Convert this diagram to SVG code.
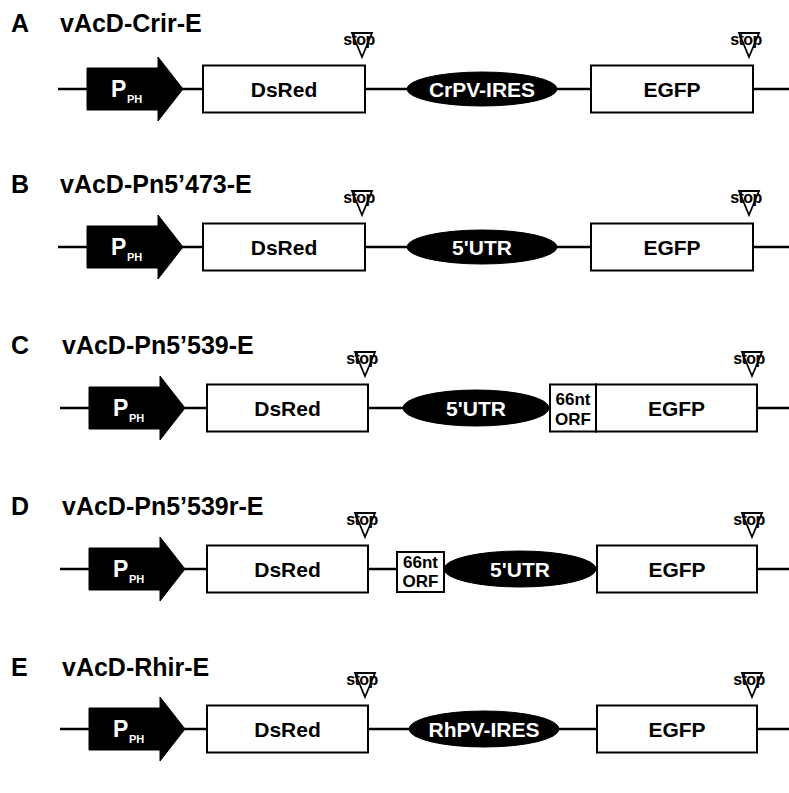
<svg xmlns="http://www.w3.org/2000/svg" width="789" height="793" viewBox="0 0 789 793">
<defs>
<style>
.bg{fill:#fff}
.ln{stroke:#000;stroke-width:2.6;fill:none}
.box{fill:#fff;stroke:#000;stroke-width:2}
.blk{fill:#000;stroke:#000;stroke-width:1}
.t{font-family:"Liberation Sans",Arial,sans-serif;font-weight:bold;fill:#000}
.ttl{font-size:25px}
.lbl{font-size:21px;text-anchor:middle}
.wl{font-size:21px;text-anchor:middle;fill:#fff}
.orf{font-size:17px;text-anchor:middle}
.p{font-size:23px;fill:#fff}
.ph{font-size:11px;fill:#fff}
.stop{font-size:16px;text-anchor:middle;letter-spacing:-0.6px}
.tri{fill:none;stroke:#000;stroke-width:1.8}
</style>
<g id="stopSym">
<polygon class="tri" points="-10,-24 10,-24 0,0"/>
<text class="t stop" x="-3" y="-12">stop</text>
</g>
<g id="arrow">
<polygon class="blk" points="0,-21 71,-21 71,-32 96,0 71,32 71,21 0,21"/>
<text class="t p" x="24" y="8">P</text>
<text class="t ph" x="40" y="14">PH</text>
</g>
</defs>
<rect class="bg" x="0" y="0" width="789" height="793"/>

<g id="connectors">
<line class="ln" x1="58" y1="89" x2="789" y2="89"/>
<line class="ln" x1="58" y1="247" x2="789" y2="247"/>
<line class="ln" x1="60" y1="408" x2="789" y2="408"/>
<line class="ln" x1="60" y1="569" x2="789" y2="569"/>
<line class="ln" x1="60" y1="729" x2="789" y2="729"/>
</g>

<!-- Row A -->
<g id="rowA">
<text class="t ttl" x="11" y="32">A</text>
<text class="t ttl" x="60" y="32">vAcD-Crir-E</text>
<use href="#arrow" x="87" y="89"/>
<g id="A-dsred"><rect class="box" x="203" y="65.5" width="162" height="47"/><text class="t lbl" x="284" y="96.5">DsRed</text></g>
<use href="#stopSym" x="362" y="57"/>
<g id="A-ires"><ellipse class="blk" cx="482" cy="89" rx="75" ry="17"/><text class="t wl" x="482" y="96.5">CrPV-IRES</text></g>
<g id="A-egfp"><rect class="box" x="591" y="65.5" width="162" height="47"/><text class="t lbl" x="672" y="96.5">EGFP</text></g>
<use href="#stopSym" x="749" y="57"/>
</g>

<!-- Row B -->
<g id="rowB">
<text class="t ttl" x="11" y="193">B</text>
<text class="t ttl" x="60" y="193">vAcD-Pn5’473-E</text>
<use href="#arrow" x="87" y="247"/>
<g id="B-dsred"><rect class="box" x="203" y="223.5" width="162" height="47"/><text class="t lbl" x="284" y="254.5">DsRed</text></g>
<use href="#stopSym" x="362" y="215"/>
<g id="B-utr"><ellipse class="blk" cx="482" cy="247" rx="75" ry="17"/><text class="t wl" x="482" y="254.5">5'UTR</text></g>
<g id="B-egfp"><rect class="box" x="591" y="223.5" width="162" height="47"/><text class="t lbl" x="672" y="254.5">EGFP</text></g>
<use href="#stopSym" x="749" y="215"/>
</g>

<!-- Row C -->
<g id="rowC">
<text class="t ttl" x="11" y="354">C</text>
<text class="t ttl" x="62" y="354">vAcD-Pn5’539-E</text>
<use href="#arrow" x="89" y="408"/>
<g id="C-dsred"><rect class="box" x="207" y="384.5" width="161" height="47"/><text class="t lbl" x="287.5" y="415.5">DsRed</text></g>
<use href="#stopSym" x="365" y="376"/>
<g id="C-utr"><ellipse class="blk" cx="476" cy="408" rx="73" ry="18"/><text class="t wl" x="476" y="415.5">5'UTR</text></g>
<g id="C-orf"><rect class="box" x="550" y="384.5" width="46" height="47"/><text class="t orf" x="573" y="405">66nt</text><text class="t orf" x="573" y="425">ORF</text></g>
<g id="C-egfp"><rect class="box" x="596" y="384.5" width="161" height="47"/><text class="t lbl" x="676.5" y="415.5">EGFP</text></g>
<use href="#stopSym" x="752" y="376"/>
</g>

<!-- Row D -->
<g id="rowD">
<text class="t ttl" x="11" y="515">D</text>
<text class="t ttl" x="62" y="515">vAcD-Pn5’539r-E</text>
<use href="#arrow" x="89" y="569"/>
<g id="D-dsred"><rect class="box" x="207" y="545.5" width="161" height="47"/><text class="t lbl" x="287.5" y="576.5">DsRed</text></g>
<use href="#stopSym" x="365" y="537"/>
<g id="D-orf"><rect class="box" x="397" y="552" width="47" height="40"/><text class="t orf" x="420.5" y="568">66nt</text><text class="t orf" x="420.5" y="587">ORF</text></g>
<g id="D-utr"><ellipse class="blk" cx="520" cy="569" rx="76" ry="18"/><text class="t wl" x="520" y="576.5">5'UTR</text></g>
<g id="D-egfp"><rect class="box" x="597" y="545.5" width="160" height="47"/><text class="t lbl" x="677" y="576.5">EGFP</text></g>
<use href="#stopSym" x="752" y="537"/>
</g>

<!-- Row E -->
<g id="rowE">
<text class="t ttl" x="11" y="676">E</text>
<text class="t ttl" x="62" y="676">vAcD-Rhir-E</text>
<use href="#arrow" x="89" y="729"/>
<g id="E-dsred"><rect class="box" x="207" y="705.5" width="161" height="47"/><text class="t lbl" x="287.5" y="736.5">DsRed</text></g>
<use href="#stopSym" x="365" y="697"/>
<g id="E-ires"><ellipse class="blk" cx="484" cy="729" rx="75" ry="18"/><text class="t wl" x="484" y="736.5">RhPV-IRES</text></g>
<g id="E-egfp"><rect class="box" x="597" y="705.5" width="160" height="47"/><text class="t lbl" x="677" y="736.5">EGFP</text></g>
<use href="#stopSym" x="752" y="697"/>
</g>
</svg>
